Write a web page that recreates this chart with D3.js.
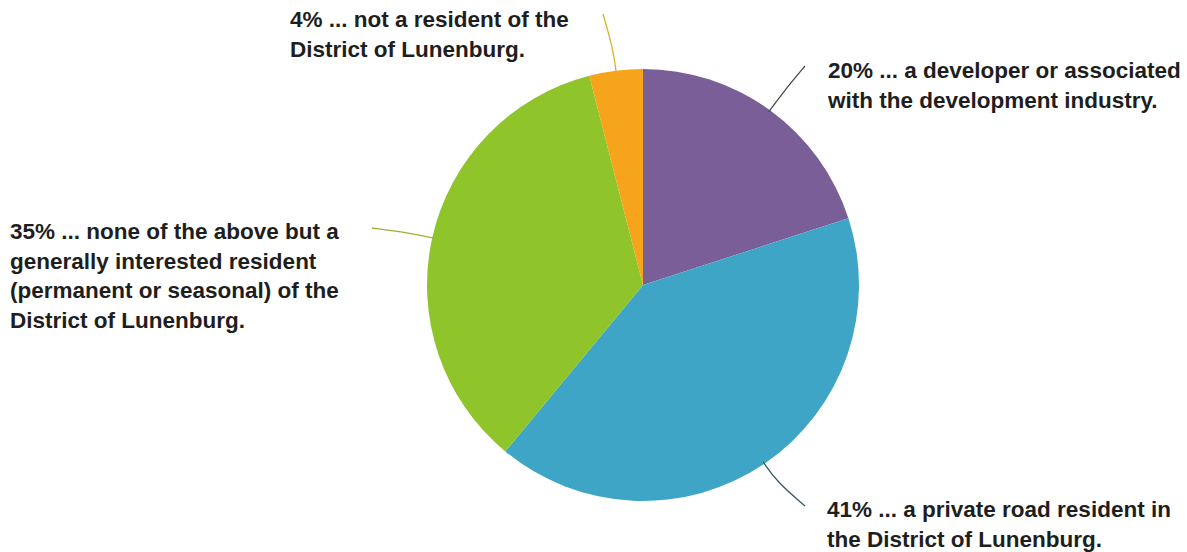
<!DOCTYPE html>
<html>
<head>
<meta charset="utf-8">
<script src="https://cdn.jsdelivr.net/npm/d3@7"></script>
<style>
  html, body { margin: 0; padding: 0; background: #ffffff; }
  svg { display: block; }
  .lbl { font-family: "Liberation Sans", Arial, Helvetica, sans-serif; font-weight: bold; font-size: 22.5px; fill: #1e1e1e; }
</style>
</head>
<body>
<svg id="chart" width="1187" height="552"></svg>
<script>
// Survey responses: "I am ..."
const categories = [
  "a developer or associated with the development industry.",
  "a private road resident in the District of Lunenburg.",
  "none of the above but a generally interested resident (permanent or seasonal) of the District of Lunenburg.",
  "not a resident of the District of Lunenburg."
];
const shares = [20, 41, 35, 4];
const sliceColors = ["#7a5e98", "#3fa5c6", "#8fc42a", "#f6a41c"];
const leaderColors = ["#4a4a4a", "#3c5862", "#98b53a", "#d9b02a"];
// Label text, one entry per line, in slice order
const labelLines = [
  ["20% ... a developer or associated", "with the development industry."],
  ["41% ... a private road resident in", "the District of Lunenburg."],
  ["35% ... none of the above but a", "generally interested resident", "(permanent or seasonal) of the", "District of Lunenburg."],
  ["4% ... not a resident of the", "District of Lunenburg."]
];

const svg = d3.select("#chart");
const cx = 643, cy = 285, r = 216;

const data = categories.map((c, i) => ({ category: c, value: shares[i], i }));

const pie = d3.pie().value(d => d.value).sort(null);
const arcs = pie(data);
const arc = d3.arc().innerRadius(0).outerRadius(r);

const g = svg.append("g").attr("transform", `translate(${cx},${cy})`);

g.selectAll("path.slice")
  .data(arcs)
  .join("path")
  .attr("class", "slice")
  .attr("d", arc)
  .attr("fill", d => sliceColors[d.data.i]);

// Leader line layout: outward bend radius and end point (relative to centre)
const leaderLayout = [
  { bend: 238, end: [162, -219] },
  { bend: 238, end: [162, 221] },
  { bend: 238, end: [-271, -57] },
  { bend: 238, end: [-40, -271] }
];

const line = d3.line().curve(d3.curveBasis);
const pt = (a, rad) => [Math.sin(a) * rad, -Math.cos(a) * rad];

g.selectAll("path.leader")
  .data(arcs)
  .join("path")
  .attr("class", "leader")
  .attr("fill", "none")
  .attr("stroke-width", 1.3)
  .attr("stroke", d => leaderColors[d.data.i])
  .attr("d", d => {
    const a = (d.startAngle + d.endAngle) / 2;
    const L = leaderLayout[d.data.i];
    const p0 = pt(a, r - 2);
    const p1 = pt(a, L.bend);
    return line([p0, p0, p1, L.end, L.end]);
  });

// Label blocks: left x and first baseline
const labelPos = [
  { x: 828, y: 78 },
  { x: 827, y: 517 },
  { x: 10, y: 239 },
  { x: 290, y: 27 }
];
const lineGap = 29.5;

labelLines.forEach((lines, i) => {
  const t = svg.append("text")
    .attr("class", "lbl")
    .attr("x", labelPos[i].x)
    .attr("y", labelPos[i].y);
  lines.forEach((s, k) => {
    t.append("tspan")
      .attr("x", labelPos[i].x)
      .attr("y", labelPos[i].y + k * lineGap)
      .text(s);
  });
});
</script>
</body>
</html>
